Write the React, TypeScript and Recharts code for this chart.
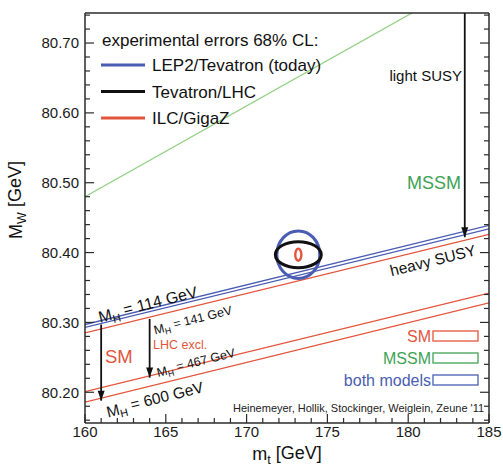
import React from 'react';
import { ComposedChart, Line, Scatter, XAxis, YAxis, ReferenceDot } from 'recharts';

// chart values
const mtEnds = [160, 185];
const mssmUpper = [80.48, 80.805];
const bothUpper = [80.297, 80.439];
const bothLower = [80.293, 80.434];
const smUpper = [80.285, 80.426];
const smMid = [80.201, 80.342];
const smLower = [80.186, 80.328];

const xTicks = [160, 161, 162, 163, 164, 165, 166, 167, 168, 169, 170, 171, 172, 173, 174, 175, 176, 177, 178, 179, 180, 181, 182, 183, 184, 185];
const yTicks = [80.16, 80.18, 80.2, 80.22, 80.24, 80.26, 80.28, 80.3, 80.32, 80.34, 80.36, 80.38, 80.4, 80.42, 80.44, 80.46, 80.48, 80.5, 80.52, 80.54, 80.56, 80.58, 80.6, 80.62, 80.64, 80.66, 80.68, 80.7, 80.72, 80.74];

// 68% CL error ellipses: centre and half-widths
const lepEllipse = [{ mt: 173.2, mw: 80.397, dmt: 1.33, dmw: 0.034 }];
const lhcEllipse = [{ mt: 173.2, mw: 80.397, dmt: 1.42, dmw: 0.0186 }];
const ilcEllipse = [{ mt: 173.2, mw: 80.397, dmt: 0.19, dmw: 0.0086 }];

// arrows (start, tip)
const susyArrow = [{ mt: 183.5, mw: 80.743 }, { mt: 183.5, mw: 80.422, tip: true }];
const smArrow = [{ mt: 161.0, mw: 80.297 }, { mt: 161.0, mw: 80.188, tip: true }];
const lhcArrow = [{ mt: 164.0, mw: 80.305 }, { mt: 164.0, mw: 80.221, tip: true }];

const lineRows = mtEnds.map((mt, i) => ({
  mt,
  mssmUpper: mssmUpper[i],
  bothUpper: bothUpper[i],
  bothLower: bothLower[i],
  smUpper: smUpper[i],
  smMid: smMid[i],
  smLower: smLower[i],
}));

const W = 503;
const H = 469;
const MARGIN = { top: 13, right: 14, bottom: 0, left: 25 };
const Y_AXIS_W = 60;
const X_AXIS_H = 46;
const X_DOMAIN: [number, number] = [160, 185];
const Y_DOMAIN: [number, number] = [80.156, 80.743];
const PLOT_W = W - MARGIN.left - MARGIN.right - Y_AXIS_W;
const PLOT_H = H - MARGIN.top - MARGIN.bottom - X_AXIS_H;
const PX_MT = PLOT_W / (X_DOMAIN[1] - X_DOMAIN[0]);
const PX_MW = PLOT_H / (Y_DOMAIN[1] - Y_DOMAIN[0]);

const FONT = '"Liberation Sans", Arial, Helvetica, sans-serif';
const FRAME = '#2b2b2b';
const BLUE = '#4a5db2';
const RED = '#e2553b';
const GREEN_LINE = '#94d186';
const GREEN_TEXT = '#40a255';

const isMajorX = (v: number) => Math.abs(v % 5) < 1e-6;
const isMajorY = (v: number) => Math.abs(v * 10 - Math.round(v * 10)) < 1e-6;

const BottomTick = (props: any) => {
  const { x, y, payload } = props;
  const major = isMajorX(payload.value);
  return (
    <g>
      <line x1={x} y1={y} x2={x} y2={y - (major ? 9 : 5)} stroke={FRAME} strokeWidth={1.2} />
      {major && (
        <text x={x} y={y + 3} dy="0.71em" textAnchor="middle" fontSize={15} fontFamily={FONT} fill="#1a1a1a">
          {payload.value}
        </text>
      )}
    </g>
  );
};

const TopTick = (props: any) => {
  const { x, y, payload } = props;
  const major = isMajorX(payload.value);
  return <line x1={x} y1={y} x2={x} y2={y + (major ? 9 : 5)} stroke={FRAME} strokeWidth={1.2} />;
};

const LeftTick = (props: any) => {
  const { x, y, payload } = props;
  const major = isMajorY(payload.value);
  return (
    <g>
      <line x1={x} y1={y} x2={x + (major ? 9 : 5)} y2={y} stroke={FRAME} strokeWidth={1.2} />
      {major && (
        <text x={x - 6} y={y} dy="0.36em" textAnchor="end" fontSize={15} fontFamily={FONT} fill="#1a1a1a">
          {payload.value.toFixed(2)}
        </text>
      )}
    </g>
  );
};

const RightTick = (props: any) => {
  const { x, y, payload } = props;
  const major = isMajorY(payload.value);
  return <line x1={x} y1={y} x2={x - (major ? 9 : 5)} y2={y} stroke={FRAME} strokeWidth={1.2} />;
};

const ellipseShape = (color: string, width: number) => (props: any) => {
  const { cx, cy, payload } = props;
  return (
    <ellipse cx={cx} cy={cy} rx={payload.dmt * PX_MT} ry={payload.dmw * PX_MW} fill="none" stroke={color} strokeWidth={width} />
  );
};

const arrowHead = (props: any) => {
  const { cx, cy, payload } = props;
  if (!payload.tip) return <g />;
  return <path d={`M${cx},${cy} L${cx - 3.5},${cy - 10} L${cx + 3.5},${cy - 10} Z`} fill="#111" />;
};

type Ann = {
  mt: number;
  mw: number;
  text: string;
  sub?: string;
  rest?: string;
  size: number;
  color: string;
  anchor: 'start' | 'middle' | 'end';
  rot?: number;
};

const annotations: Ann[] = [
  { mt: 183.33, mw: 80.654, text: 'light SUSY', size: 15, color: '#111', anchor: 'end' },
  { mt: 183.27, mw: 80.501, text: 'MSSM', size: 18, color: GREEN_TEXT, anchor: 'end' },
  { mt: 181.53, mw: 80.389, text: 'heavy SUSY', size: 15.5, color: '#111', anchor: 'middle', rot: -14 },
  { mt: 163.9, mw: 80.325, text: 'M', sub: 'H', rest: ' = 114 GeV', size: 16, color: '#111', anchor: 'middle', rot: -14 },
  { mt: 166.68, mw: 80.303, text: 'M', sub: 'H', rest: ' = 141 GeV', size: 12.5, color: '#111', anchor: 'middle', rot: -14 },
  { mt: 164.21, mw: 80.268, text: 'LHC excl.', size: 12.5, color: RED, anchor: 'start' },
  { mt: 161.24, mw: 80.252, text: 'SM', size: 18.5, color: RED, anchor: 'start' },
  { mt: 166.87, mw: 80.242, text: 'M', sub: 'H', rest: ' = 467 GeV', size: 12.5, color: '#111', anchor: 'middle', rot: -14 },
  { mt: 164.33, mw: 80.189, text: 'M', sub: 'H', rest: ' = 600 GeV', size: 15.5, color: '#111', anchor: 'middle', rot: -14 },
  { mt: 184.7, mw: 80.178, text: "Heinemeyer, Hollik, Stockinger, Weiglein, Zeune '11", size: 11, color: '#222', anchor: 'end' },
];

const annShape = (a: Ann) => (props: any) => {
  const { cx, cy } = props;
  return (
    <text
      x={cx}
      y={cy}
      dy="0.36em"
      textAnchor={a.anchor}
      fontSize={a.size}
      fontFamily={FONT}
      fill={a.color}
      transform={a.rot ? `rotate(${a.rot} ${cx} ${cy})` : undefined}
    >
      {a.text}
      {a.sub && (
        <tspan dy="0.3em" fontSize="70%">
          {a.sub}
        </tspan>
      )}
      {a.rest && <tspan dy="-0.3em">{a.rest}</tspan>}
    </text>
  );
};

const topLegend = [
  { label: 'LEP2/Tevatron (today)', color: BLUE },
  { label: 'Tevatron/LHC', color: '#111' },
  { label: 'ILC/GigaZ', color: RED },
];

const modelLegend = [
  { label: 'SM', color: RED },
  { label: 'MSSM', color: GREEN_TEXT },
  { label: 'both models', color: BLUE },
];

function Overlay() {
  return (
    <svg width={W} height={H} style={{ position: 'absolute', left: 0, top: 0, pointerEvents: 'none' }} fontFamily={FONT}>
      <text x={102} y={40} dy="0.36em" fontSize={17} fill="#111">
        experimental errors 68% CL:
      </text>
      {topLegend.map((d, i) => {
        const y = 65 + i * 26.5;
        return (
          <g key={d.label}>
            <line x1={101} x2={145} y1={y} y2={y} stroke={d.color} strokeWidth={3} />
            <text x={152} y={y} dy="0.36em" fontSize={17} fill="#111">
              {d.label}
            </text>
          </g>
        );
      })}
      {modelLegend.map((d, i) => {
        const y = 336 + i * 22;
        return (
          <g key={d.label}>
            <text x={431} y={y} dy="0.36em" textAnchor="end" fontSize={16} fill={d.color}>
              {d.label}
            </text>
            <rect x={433} y={y - 5} width={45} height={10} fill="none" stroke={d.color} strokeWidth={1.3} />
          </g>
        );
      })}
      <text x={287} y={454} dy="0.36em" textAnchor="middle" fontSize={18} fill="#111">
        m<tspan dy="0.25em" fontSize="70%">t</tspan>
        <tspan dy="-0.25em"> [GeV]</tspan>
      </text>
      <text x={16} y={200} dy="0.36em" textAnchor="middle" fontSize={18} fill="#111" transform="rotate(-90 16 200)">
        M<tspan dy="0.3em" fontSize="70%">W</tspan>
        <tspan dy="-0.3em"> [GeV]</tspan>
      </text>
    </svg>
  );
}

export default function App() {
  return (
    <div style={{ position: 'absolute', left: 0, top: 0, width: W, height: H, background: '#fff' }}>
      <ComposedChart width={W} height={H} data={lineRows} margin={MARGIN} style={{ fontFamily: FONT }}>
        <XAxis
          xAxisId="x"
          dataKey="mt"
          type="number"
          domain={X_DOMAIN}
          allowDataOverflow
          ticks={xTicks}
          interval={0}
          height={X_AXIS_H}
          tickSize={0}
          tickMargin={0}
          tickLine={false}
          axisLine={{ stroke: FRAME, strokeWidth: 1.5 }}
          tick={BottomTick}
        />
        <XAxis
          xAxisId="top"
          orientation="top"
          mirror
          type="number"
          domain={X_DOMAIN}
          allowDataOverflow
          ticks={xTicks}
          interval={0}
          height={1}
          tickSize={0}
          tickMargin={0}
          tickLine={false}
          axisLine={{ stroke: FRAME, strokeWidth: 1.5 }}
          tick={TopTick}
        />
        <YAxis
          yAxisId="y"
          dataKey="mw"
          type="number"
          domain={Y_DOMAIN}
          allowDataOverflow
          ticks={yTicks}
          interval={0}
          width={Y_AXIS_W}
          tickSize={0}
          tickMargin={0}
          tickLine={false}
          axisLine={{ stroke: FRAME, strokeWidth: 1.5 }}
          tick={LeftTick}
        />
        <YAxis
          yAxisId="right"
          orientation="right"
          mirror
          type="number"
          domain={Y_DOMAIN}
          allowDataOverflow
          ticks={yTicks}
          interval={0}
          width={1}
          tickSize={0}
          tickMargin={0}
          tickLine={false}
          axisLine={{ stroke: FRAME, strokeWidth: 1.5 }}
          tick={RightTick}
        />

        <Line xAxisId="x" yAxisId="y" dataKey="mssmUpper" stroke={GREEN_LINE} strokeWidth={1.3} dot={false} isAnimationActive={false} />
        <Line xAxisId="x" yAxisId="y" dataKey="bothUpper" stroke={BLUE} strokeWidth={1.3} dot={false} isAnimationActive={false} />
        <Line xAxisId="x" yAxisId="y" dataKey="bothLower" stroke={BLUE} strokeWidth={1.3} dot={false} isAnimationActive={false} />
        <Line xAxisId="x" yAxisId="y" dataKey="smUpper" stroke={RED} strokeWidth={1.3} dot={false} isAnimationActive={false} />
        <Line xAxisId="x" yAxisId="y" dataKey="smMid" stroke={RED} strokeWidth={1.3} dot={false} isAnimationActive={false} />
        <Line xAxisId="x" yAxisId="y" dataKey="smLower" stroke={RED} strokeWidth={1.3} dot={false} isAnimationActive={false} />

        <Scatter xAxisId="x" yAxisId="y" data={lepEllipse} shape={ellipseShape(BLUE, 3)} isAnimationActive={false} />
        <Scatter xAxisId="x" yAxisId="y" data={lhcEllipse} shape={ellipseShape('#111', 3)} isAnimationActive={false} />
        <Scatter xAxisId="x" yAxisId="y" data={ilcEllipse} shape={ellipseShape(RED, 2.4)} isAnimationActive={false} />

        <Scatter xAxisId="x" yAxisId="y" data={susyArrow} line={{ stroke: '#111', strokeWidth: 1.8 }} shape={arrowHead} isAnimationActive={false} />
        <Scatter xAxisId="x" yAxisId="y" data={smArrow} line={{ stroke: '#111', strokeWidth: 1.8 }} shape={arrowHead} isAnimationActive={false} />
        <Scatter xAxisId="x" yAxisId="y" data={lhcArrow} line={{ stroke: '#111', strokeWidth: 1.8 }} shape={arrowHead} isAnimationActive={false} />

        {annotations.map((a, i) => (
          <ReferenceDot key={i} xAxisId="x" yAxisId="y" x={a.mt} y={a.mw} r={0} shape={annShape(a)} />
        ))}
      </ComposedChart>
      <Overlay />
    </div>
  );
}
